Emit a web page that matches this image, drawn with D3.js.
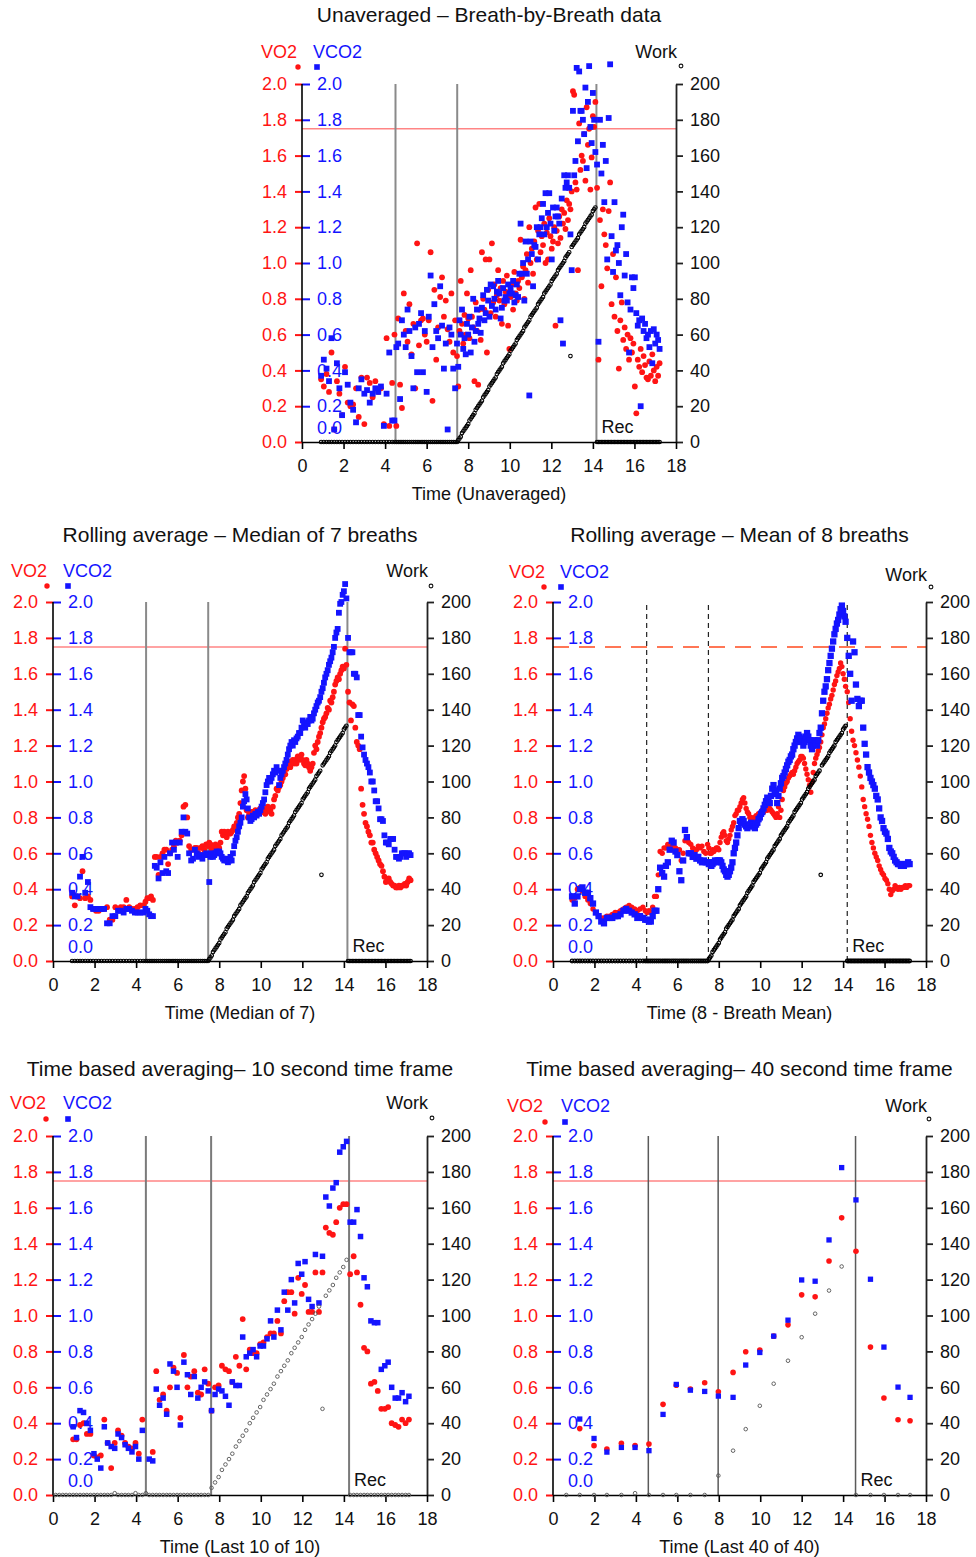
<!DOCTYPE html>
<html>
<head>
<meta charset="utf-8">
<script src="https://cdn.jsdelivr.net/npm/d3@7"></script>
<style>
  body { margin: 0; background: #fff; }
  svg { display: block; }
</style>
</head>
<body>
<svg id="chart" width="976" height="1557"></svg>
<script>
// ---------------------------------------------------------------
// Axis tick values
// ---------------------------------------------------------------
const gasTicks  = [0, 0.2, 0.4, 0.6, 0.8, 1.0, 1.2, 1.4, 1.6, 1.8, 2.0];   // L/min
const workTicks = [0, 20, 40, 60, 80, 100, 120, 140, 160, 180, 200];       // W
const timeTicks = [0, 2, 4, 6, 8, 10, 12, 14, 16, 18];                     // min

// Threshold level drawn as the horizontal reference line (L/min)
const thresholdLevel = 1.75;

// Phase markers (min): end of rest, start of ramp, start of recovery
const markersBreath = [4.5, 7.47, 14.17];
const markersMedian = [4.48, 7.47, 14.17];
const markersMean   = [4.52, 7.5, 14.2];
const markers10s    = [4.47, 7.61, 14.25];
const markers40s    = [4.6, 7.97, 14.6];

// ---------------------------------------------------------------
// Breath-by-breath time stamps (min), shared by the three breath panels
// ---------------------------------------------------------------
const breathTime = [
  0.92,1.05,1.18,1.3,1.42,1.55,1.68,1.8,1.93,2.07,2.2,2.33,2.46,2.6,2.73,2.86,3.0,3.13,3.26,3.4,3.53,3.67,3.8,3.94,4.07,4.2,4.34,
  4.45,4.54,4.63,4.72,4.81,4.9,4.99,5.08,5.17,5.27,5.36,5.45,5.54,5.63,5.73,5.82,5.91,6.0,6.1,6.19,6.28,6.37,6.46,6.55,6.65,6.74,6.83,6.92,7.01,7.1,7.19,7.28,7.37,
  7.46,7.52,7.58,7.64,7.7,7.76,7.82,7.88,7.94,8.0,
  8.06,8.12,8.18,8.24,8.3,8.36,8.42,8.48,8.54,8.6,
  8.66,8.72,8.78,8.84,8.9,8.96,9.02,9.08,9.14,9.2,
  9.26,9.32,9.38,9.44,9.5,9.56,9.62,9.68,9.74,9.8,
  9.86,9.92,9.98,10.04,10.1,10.16,10.22,10.28,10.34,10.4,
  10.46,10.52,10.58,10.64,10.7,10.76,10.82,10.88,10.94,11.0,
  11.06,11.12,11.18,11.24,11.3,11.36,11.42,11.48,11.54,11.6,
  11.66,11.72,11.78,11.84,11.9,11.96,12.02,12.08,12.14,12.2,
  12.26,12.32,12.38,12.44,12.5,12.56,12.62,12.68,12.74,12.8,
  12.86,12.92,12.98,13.04,13.1,13.16,13.22,13.28,13.34,13.4,
  13.46,13.52,13.58,13.64,13.7,13.76,13.82,13.88,13.94,14.0,
  14.06,14.12,
  14.2,14.27,14.34,14.41,14.48,14.55,14.62,14.69,14.76,14.83,
  14.9,14.97,15.04,15.11,15.18,15.25,15.32,15.39,15.46,15.53,
  15.6,15.67,15.74,15.81,15.88,15.95,16.02,16.09,16.16,16.23,
  16.3,16.37,16.44,16.51,16.58,16.65,16.72,16.79,16.86,16.93,
  17.0,17.07,17.14,17.21
];

// Work rate per breath (W)
const workBreath = [
  0,0,0,0,0,0,0,0,0,0,0,0,0,0,0,0,0,0,0,0,0,0,0,0,0,0,0,
  0,0,0,0,0,0,0,0,0,0,0,0,0,0,0,0,0,0,0,0,0,0,0,0,0,0,0,0,0,0,0,0,0,
  0,1,2,3,5,6,7,8,9,10,
  12,13,14,15,16,18,19,20,21,22,
  23,25,26,27,28,29,31,32,33,34,
  35,36,38,39,40,41,42,44,45,46,
  47,48,49,51,52,53,54,55,57,58,
  59,60,61,62,64,65,66,67,68,70,
  71,72,73,74,75,77,78,79,80,81,
  83,84,85,86,87,88,90,91,92,93,
  94,96,97,98,99,100,101,103,104,105,
  106,48,109,110,111,112,113,114,116,117,
  118,119,120,122,123,124,125,126,127,129,
  130,131,
  0,0,0,0,0,0,0,0,0,0,0,0,0,0,0,0,0,0,0,0,0,0,0,0,0,0,0,0,0,0,0,0,0,0,0,0,0,0,0,0,0,0,0,0
];

// Unaveraged VO2 (L/min)
const vo2Raw = [
  0.35,0.31,0.38,0.28,0.5,0.07,0.34,0.27,0.15,0.42,0.22,0.2,0.21,0.3,0.14,0.36,0.1,0.36,0.33,0.25,0.34,0.28,0.3,0.1,0.58,0.09,0.33,
  0.6,0.09,0.69,0.32,0.19,0.83,0.62,0.56,0.77,0.49,0.66,0.3,1.11,0.54,0.68,0.69,0.6,0.56,0.68,1.06,0.23,0.85,0.46,0.64,0.81,0.92,0.7,0.79,0.63,0.56,0.83,0.5,0.68,
  0.48,0.31,0.62,0.9,0.66,0.55,0.71,0.6,0.83,0.69,
  0.58,0.96,0.7,0.64,0.34,0.78,0.62,0.32,0.74,0.57,
  1.06,0.8,0.74,1.02,0.5,0.85,1.02,0.72,1.11,0.78,
  0.88,0.7,0.82,0.96,0.79,0.86,0.66,0.9,0.77,0.84,
  0.93,0.65,0.52,0.81,0.88,0.74,0.95,0.83,0.79,0.9,
  0.86,1.13,0.92,0.98,0.8,0.96,1.05,0.89,1.2,1.0,
  1.08,0.94,1.12,1.31,1.02,1.18,1.33,1.06,1.15,1.1,
  1.22,1.0,1.17,1.02,1.25,1.15,1.08,1.12,1.2,0.65,
  1.18,1.11,1.26,1.14,1.3,1.22,1.28,1.19,1.35,1.24,
  1.33,1.3,1.4,1.96,1.94,1.45,1.41,0.96,1.78,1.52,
  1.6,1.57,1.72,1.46,1.87,1.66,1.75,1.41,1.59,1.82,
  1.76,1.9,
  1.42,0.46,1.24,0.87,1.3,1.16,1.1,0.97,1.29,1.45,
  0.77,1.05,0.7,0.92,0.62,0.41,0.68,0.78,0.57,0.64,
  0.52,0.6,0.46,0.58,0.5,0.55,0.31,0.16,0.46,0.42,
  0.52,0.39,0.48,0.43,0.36,0.35,0.45,0.37,0.49,0.4,
  0.34,0.42,0.37,0.44
];

// Unaveraged VCO2 (L/min)
const vco2Raw = [
  0.37,0.46,0.41,0.34,0.58,0.07,0.44,0.3,0.15,0.39,0.32,0.22,0.18,0.11,0.3,0.35,0.27,0.29,0.22,0.27,0.3,0.28,0.31,0.09,0.27,0.5,0.12,
  0.12,0.53,0.55,0.24,0.68,0.6,0.53,0.74,0.62,0.48,0.3,0.64,0.39,0.66,0.72,0.39,0.62,0.28,0.7,0.93,0.53,0.77,0.62,0.58,0.87,0.65,0.41,0.55,0.07,0.64,0.6,0.41,0.3,
  0.55,0.42,0.68,0.6,0.74,0.52,0.58,0.49,0.66,0.6,
  0.7,0.5,0.64,0.8,0.56,0.62,0.74,0.66,0.69,0.61,
  0.75,0.82,0.68,0.72,0.85,0.79,0.7,0.88,0.76,0.87,
  0.8,0.74,0.84,0.9,0.83,0.69,0.75,0.86,0.79,0.81,
  0.79,0.88,0.83,0.86,0.83,0.9,0.78,0.82,0.88,0.81,
  0.94,1.22,0.94,1.0,0.79,1.12,0.94,1.02,0.26,1.12,
  1.05,0.87,1.1,1.09,1.2,1.02,1.16,1.2,1.25,1.33,
  1.16,1.39,1.2,1.28,1.39,1.22,1.02,1.31,1.18,1.26,
  1.31,1.26,1.22,0.68,1.36,0.55,1.49,1.42,1.45,1.49,
  1.42,1.16,0.96,1.85,1.49,1.57,2.09,1.68,2.07,1.85,
  1.85,1.8,1.72,1.98,1.53,1.9,2.1,1.76,1.67,1.95,
  1.8,1.62,
  1.55,0.56,1.8,1.5,1.66,1.34,1.57,1.02,1.81,2.11,
  1.15,0.95,1.34,1.07,1.1,1.0,0.82,1.2,1.27,0.93,
  1.05,0.78,0.5,0.74,0.92,0.86,0.92,0.72,0.65,0.68,
  0.2,0.69,0.62,0.66,0.58,0.6,0.53,0.62,0.44,0.63,
  0.55,0.6,0.57,0.52
];

// Rolling median of 7 breaths
const vo2Median7 = [
  0.36,0.31,0.36,0.35,0.5,0.35,0.36,0.34,0.29,0.28,0.28,0.29,0.29,0.3,0.23,0.23,0.3,0.29,0.3,0.3,0.34,0.3,0.29,0.29,0.3,0.31,0.31,
  0.33,0.35,0.35,0.36,0.34,0.58,0.58,0.48,0.58,0.6,0.62,0.62,0.54,0.6,0.62,0.64,0.67,0.66,0.67,0.7,0.86,0.87,0.8,0.64,0.62,0.62,0.63,0.63,0.6,0.63,0.64,0.62,0.65,
  0.64,0.66,0.65,0.62,0.63,0.64,0.65,0.63,0.64,0.63,
  0.66,0.72,0.7,0.72,0.7,0.69,0.72,0.71,0.71,0.72,
  0.73,0.75,0.75,0.77,0.8,0.82,0.88,0.95,1.0,1.03,
  0.96,0.84,0.8,0.82,0.8,0.83,0.83,0.81,0.84,0.83,
  0.82,0.84,0.85,0.83,0.85,0.84,0.82,0.83,0.86,0.85,
  0.84,0.82,0.86,0.9,0.92,0.96,0.95,0.97,0.98,1.0,
  1.02,1.05,1.04,1.07,1.1,1.11,1.08,1.1,1.12,1.1,
  1.12,1.1,1.14,1.12,1.13,1.15,1.12,1.1,1.09,1.12,
  1.1,1.08,1.06,1.08,1.1,1.16,1.2,1.18,1.22,1.25,
  1.27,1.3,1.33,1.35,1.36,1.38,1.41,1.4,1.45,1.44,
  1.47,1.5,1.54,1.56,1.58,1.57,1.6,1.62,1.64,1.63,
  1.74,1.65,
  1.5,1.44,1.34,1.43,1.42,1.3,1.22,1.2,1.18,0.96,
  0.87,0.82,0.77,0.75,0.72,0.7,0.66,0.66,0.62,0.6,
  0.58,0.56,0.54,0.53,0.5,0.47,0.44,0.45,0.46,0.44,
  0.43,0.42,0.42,0.41,0.41,0.42,0.41,0.42,0.42,0.43,
  0.42,0.44,0.46,0.45
];
const vco2Median7 = [
  0.38,0.36,0.36,0.47,0.58,0.38,0.44,0.3,0.29,0.29,0.29,0.29,0.29,0.21,0.21,0.25,0.25,0.28,0.28,0.27,0.29,0.29,0.28,0.27,0.27,0.27,0.27,
  0.29,0.28,0.26,0.25,0.25,0.53,0.52,0.46,0.55,0.49,0.58,0.5,0.49,0.6,0.66,0.62,0.66,0.58,0.66,0.72,0.8,0.72,0.71,0.6,0.56,0.57,0.62,0.6,0.58,0.59,0.57,0.59,0.6,
  0.59,0.44,0.58,0.6,0.58,0.59,0.6,0.61,0.6,0.61,
  0.6,0.58,0.57,0.56,0.57,0.56,0.55,0.56,0.58,0.56,
  0.6,0.64,0.67,0.69,0.72,0.75,0.77,0.8,0.86,0.89,
  0.93,0.9,0.85,0.8,0.78,0.79,0.81,0.8,0.82,0.81,
  0.83,0.82,0.84,0.86,0.88,0.9,0.94,0.98,1.0,1.02,
  1.0,1.02,1.04,1.06,1.05,1.08,1.06,0.98,1.02,1.04,
  1.06,1.08,1.1,1.12,1.15,1.18,1.2,1.22,1.2,1.23,
  1.22,1.24,1.25,1.27,1.27,1.3,1.34,1.32,1.3,1.33,
  1.32,1.34,1.36,1.34,1.35,1.38,1.4,1.42,1.44,1.45,
  1.47,1.5,1.52,1.55,1.58,1.6,1.62,1.65,1.67,1.69,
  1.72,1.75,1.8,1.83,1.85,1.94,1.99,2.0,2.04,2.06,
  2.1,2.02,
  1.8,1.72,1.72,1.72,1.6,1.6,1.58,1.37,1.37,1.25,
  1.19,1.15,1.12,1.1,1.08,1.05,1.0,1.0,0.95,0.89,
  0.89,0.85,0.79,0.79,0.78,0.7,0.66,0.66,0.65,0.68,
  0.68,0.68,0.62,0.58,0.58,0.57,0.58,0.6,0.6,0.6,
  0.58,0.6,0.6,0.59
];

// Rolling mean of 8 breaths
const vo2Mean8 = [
  0.34,0.35,0.4,0.41,0.39,0.36,0.34,0.32,0.29,0.27,0.25,0.24,0.24,0.25,0.25,0.26,0.27,0.27,0.28,0.29,0.3,0.31,0.3,0.29,0.28,0.29,0.3,
  0.28,0.27,0.28,0.27,0.3,0.36,0.36,0.48,0.61,0.6,0.63,0.63,0.65,0.64,0.62,0.64,0.63,0.62,0.62,0.56,0.6,0.67,0.68,0.66,0.65,0.63,0.62,0.62,0.64,0.63,0.64,0.61,0.6,
  0.65,0.63,0.6,0.6,0.62,0.61,0.62,0.63,0.63,0.62,
  0.66,0.69,0.71,0.72,0.7,0.67,0.66,0.68,0.7,0.73,
  0.75,0.77,0.81,0.82,0.84,0.84,0.86,0.88,0.9,0.91,
  0.88,0.85,0.83,0.82,0.8,0.8,0.78,0.79,0.8,0.81,
  0.8,0.82,0.82,0.83,0.84,0.83,0.84,0.85,0.84,0.86,
  0.85,0.84,0.83,0.82,0.81,0.8,0.82,0.86,0.8,0.84,
  0.9,0.95,0.97,0.99,1.0,1.02,1.03,1.04,1.05,1.04,
  1.06,1.08,1.1,1.11,1.12,1.14,1.14,1.13,1.1,1.07,
  1.04,1.01,0.98,0.94,1.0,1.05,1.1,1.13,1.15,1.17,
  1.19,1.22,1.26,1.3,1.32,1.35,1.38,1.41,1.43,1.46,
  1.48,1.51,1.54,1.56,1.59,1.61,1.63,1.66,1.64,1.6,
  1.57,1.53,
  1.5,1.44,1.35,1.28,1.23,1.2,1.16,1.12,1.08,1.03,
  0.97,0.9,0.86,0.82,0.79,0.75,0.7,0.66,0.63,0.6,
  0.58,0.56,0.53,0.51,0.49,0.48,0.46,0.45,0.43,0.4,
  0.37,0.39,0.4,0.42,0.41,0.4,0.41,0.4,0.41,0.41,
  0.42,0.41,0.42,0.42
];
const vco2Mean8 = [
  0.36,0.32,0.36,0.4,0.41,0.38,0.38,0.35,0.32,0.27,0.25,0.22,0.21,0.24,0.24,0.24,0.25,0.25,0.26,0.28,0.29,0.28,0.27,0.26,0.24,0.25,0.24,
  0.23,0.23,0.22,0.22,0.25,0.28,0.28,0.4,0.52,0.49,0.47,0.53,0.55,0.62,0.67,0.66,0.61,0.59,0.5,0.45,0.56,0.73,0.69,0.6,0.6,0.58,0.59,0.57,0.58,0.56,0.55,0.56,0.55,
  0.55,0.54,0.55,0.53,0.54,0.55,0.56,0.55,0.56,0.56,
  0.56,0.55,0.53,0.51,0.5,0.48,0.47,0.48,0.5,0.52,
  0.55,0.6,0.63,0.66,0.7,0.74,0.78,0.77,0.79,0.78,
  0.76,0.75,0.74,0.75,0.76,0.77,0.76,0.75,0.74,0.76,
  0.77,0.79,0.8,0.82,0.83,0.85,0.87,0.89,0.91,0.89,
  0.88,0.92,0.96,0.98,0.95,0.93,0.88,0.92,0.96,0.99,
  1.02,1.03,1.05,1.07,1.09,1.11,1.12,1.14,1.15,1.18,
  1.2,1.22,1.24,1.26,1.25,1.24,1.22,1.2,1.22,1.25,
  1.27,1.25,1.23,1.2,1.18,1.2,1.23,1.21,1.2,1.23,
  1.27,1.3,1.38,1.45,1.5,1.53,1.57,1.62,1.66,1.7,
  1.74,1.78,1.82,1.85,1.88,1.9,1.93,1.96,1.98,1.95,
  1.92,1.89,
  1.8,1.7,1.6,1.45,1.78,1.72,1.54,1.46,1.42,1.45,
  1.45,1.3,1.21,1.15,1.08,1.05,1.02,1.0,0.98,0.96,
  0.92,0.9,0.85,0.8,0.78,0.74,0.72,0.71,0.68,0.63,
  0.61,0.6,0.58,0.56,0.55,0.54,0.54,0.53,0.54,0.53,
  0.54,0.54,0.55,0.54
];

// ---------------------------------------------------------------
// 10-second time bins (min) and their averages
// ---------------------------------------------------------------
const time10s = [
  0.13,0.3,0.47,0.63,0.8,
  0.97,1.13,1.3,1.47,1.63,1.8,1.97,2.13,2.3,2.47,
  2.63,2.8,2.97,3.13,3.3,3.47,3.63,3.8,3.97,4.13,
  4.3,4.47,4.63,4.8,4.97,5.13,5.3,5.47,5.63,5.8,
  5.97,6.13,6.3,6.47,6.63,6.8,6.97,7.13,7.3,7.47,
  7.63,7.8,7.97,8.13,8.3,8.47,8.63,8.8,8.97,9.13,
  9.3,9.47,9.63,9.8,9.97,10.13,10.3,10.47,10.63,10.8,
  10.97,11.13,11.3,11.47,11.63,11.8,11.97,12.13,12.3,12.47,
  12.63,12.8,12.97,13.13,13.3,13.47,13.63,13.8,13.97,14.13,
  14.3,14.47,14.63,14.8,14.97,15.13,15.3,15.47,15.63,15.8,
  15.97,16.13,16.3,16.47,16.63,16.8,16.97,17.13
];
const vo2Avg10s = [
  null,null,null,null,null,
  0.31,0.31,0.39,0.4,0.34,0.34,0.22,0.21,0.22,0.42,
  0.29,0.15,0.29,0.36,0.33,0.29,0.27,0.26,0.29,0.23,
  0.42,null,null,0.24,0.69,0.53,0.56,0.47,0.6,0.71,
  0.68,0.43,0.78,0.6,0.66,0.69,0.57,0.56,0.7,0.62,
  0.47,0.6,0.61,0.72,0.7,0.69,0.63,0.77,0.72,0.98,
  0.7,0.81,0.79,0.79,0.84,0.85,0.88,0.9,0.9,0.97,
  0.9,1.08,1.13,1.13,1.01,1.21,1.12,1.17,1.02,1.02,
  1.24,1.02,1.24,1.49,1.46,1.45,1.52,1.6,1.62,1.62,
  1.23,1.33,1.24,1.06,0.82,0.8,0.62,0.63,0.58,0.48,
  0.48,0.49,0.4,0.39,0.38,0.42,0.4,0.42
];
const vco2Avg10s = [
  null,null,null,null,null,
  0.38,0.32,0.47,0.46,0.4,0.36,0.23,0.2,0.15,0.38,
  0.29,0.27,0.26,0.34,0.32,0.28,0.26,0.24,0.27,0.2,
  0.36,null,0.2,0.19,0.59,0.5,0.54,0.45,0.73,0.69,
  0.6,0.39,0.74,0.67,0.56,0.66,0.54,0.6,0.63,0.58,
  0.47,0.56,0.59,0.58,0.55,0.5,0.63,0.61,0.61,0.88,
  0.77,0.79,0.81,0.77,0.83,0.83,0.87,0.97,0.88,1.03,
  0.92,1.13,1.03,1.2,1.07,1.29,1.23,1.3,1.09,1.05,
  1.34,1.07,1.33,1.66,1.61,1.71,1.74,1.91,1.94,1.97,
  1.52,1.52,1.59,1.44,1.21,1.16,0.97,0.96,0.96,0.7,
  0.72,0.74,0.6,0.54,0.54,0.57,0.52,0.55
];
const workAvg10s = [
  0,0,0,0,0,
  0,0,0,0,0,0,0,0,0,0,
  0,0,1,0,0,0,0,0,1,0,
  0,1,0,0,0,0,0,0,0,0,
  0,0,0,0,0,0,0,0,0,0,
  4,7,10,14,17,20,23,27,30,33,
  36,40,43,46,49,53,56,59,62,66,
  69,72,75,79,82,85,88,92,95,98,
  101,105,48,111,114,117,121,124,127,131,
  0,0,0,0,0,0,0,0,0,0,
  0,0,0,0,0,0,0,0
];

// ---------------------------------------------------------------
// 40-second time bins (min) and their averages
// ---------------------------------------------------------------
const time40s   = [0.64,1.29,1.98,2.6,3.3,3.96,4.63,5.31,5.95,6.63,7.32,7.98,8.69,9.3,9.98,10.65,11.34,12.0,12.65,13.32,13.93,14.62,15.32,15.97,16.65,17.23];
const vo2Avg40s  = [null,0.37,0.275,0.256,0.288,0.275,0.284,0.505,0.612,0.59,0.625,0.575,0.683,0.798,0.807,0.885,0.948,1.115,1.104,1.304,1.544,1.358,0.824,0.54,0.419,0.414];
const vco2Avg40s = [null,0.423,0.315,0.239,0.265,0.265,0.247,0.449,0.616,0.584,0.577,0.551,0.544,0.724,0.794,0.885,0.974,1.198,1.191,1.421,1.824,1.644,1.202,0.824,0.601,0.544];
const workAvg40s = [0,0,0,0,0,1,0,0,0,0,0,10.8,24.7,36.7,49.7,62,74.8,87.9,101,113.9,127.3,0,0,0,0,0];

// ---------------------------------------------------------------
// Drawing
// ---------------------------------------------------------------
const RED = "#ff1414";
const BLUE = "#1414ff";
const FONT = "'Liberation Sans', Arial, Helvetica, sans-serif";
const fmt1 = d3.format(".1f");
const svg = d3.select("#chart");

const panels = [
  { title: "Unaveraged – Breath-by-Breath data", xTitle: "Time (Unaveraged)", titleY: 22,
    left: 302, right: 676, top: 84, bottom: 442,
    t: breathTime, vo2: vo2Raw, vco2: vco2Raw, tw: breathTime, work: workBreath,
    markers: markersBreath, dashed: false, markerColor: "#8a8a8a", markerWidth: 2,
    workColor: "#000", workR: 1.8, workW: 1.1, sq: 5.8, dot: 2.9,
    leg: { textDy: -33, markDy: -17, vo2End: -5, dotX: -4, vco2Start: 11, sqX: 15, workTextDy: -33, workMarkDy: -18, workX: 5 } },
  { title: "Rolling average – Median of 7 breaths", xTitle: "Time (Median of 7)", titleY: 542,
    left: 53, right: 427, top: 602, bottom: 961,
    t: breathTime, vo2: vo2Median7, vco2: vco2Median7, tw: breathTime, work: workBreath,
    markers: markersMedian, dashed: false, markerColor: "#8a8a8a", markerWidth: 2,
    workColor: "#000", workR: 1.8, workW: 1.1, sq: 5.8, dot: 2.9,
    leg: { textDy: -32, markDy: -16, vo2End: -6, dotX: -6, vco2Start: 10, sqX: 15, workTextDy: -32, workMarkDy: -16, workX: 4 } },
  { title: "Rolling average – Mean of 8 breaths", xTitle: "Time (8 - Breath Mean)", titleY: 542,
    left: 553, right: 926, top: 602, bottom: 961,
    t: breathTime, vo2: vo2Mean8, vco2: vco2Mean8, tw: breathTime, work: workBreath,
    markers: markersMean, dashed: true, markerColor: "#222", markerWidth: 1.2,
    workColor: "#000", workR: 1.8, workW: 1.2, sq: 6.3, dot: 2.7,
    leg: { textDy: -31, markDy: -15, vo2End: -8, dotX: -9, vco2Start: 7, sqX: 8, workTextDy: -28, workMarkDy: -15, workX: 5 } },
  { title: "Time based averaging– 10 second time frame", xTitle: "Time (Last 10 of 10)", titleY: 1076,
    left: 53, right: 427, top: 1136, bottom: 1495,
    t: time10s, vo2: vo2Avg10s, vco2: vco2Avg10s, tw: time10s, work: workAvg10s,
    markers: markers10s, dashed: false, markerColor: "#7a7a7a", markerWidth: 2,
    workColor: "#555", workR: 1.8, workW: 0.9, sq: 5.5, dot: 2.9,
    leg: { textDy: -34, markDy: -17, vo2End: -7, dotX: -7, vco2Start: 10, sqX: 15, workTextDy: -34, workMarkDy: -18, workX: 5 } },
  { title: "Time based averaging– 40 second time frame", xTitle: "Time (Last 40 of 40)", titleY: 1076,
    left: 553, right: 926, top: 1136, bottom: 1495,
    t: time40s, vo2: vo2Avg40s, vco2: vco2Avg40s, tw: time40s, work: workAvg40s,
    markers: markers40s, dashed: false, markerColor: "#5a5a5a", markerWidth: 1.5,
    workColor: "#555", workR: 1.8, workW: 0.9, sq: 5.3, dot: 2.8,
    leg: { textDy: -31, markDy: -14, vo2End: -10, dotX: -8, vco2Start: 8, sqX: 12, workTextDy: -31, workMarkDy: -17, workX: 3 } }
];

function zip(ts, vs) {
  return ts.map((t, i) => ({ t: t, v: vs[i] })).filter(d => d.v != null);
}

function drawPanel(c) {
  const g = svg.append("g").attr("font-family", FONT);
  const x = d3.scaleLinear().domain([0, 18]).range([c.left, c.right]);
  const y = d3.scaleLinear().domain([0, 2]).range([c.bottom, c.top]);
  const w = d3.scaleLinear().domain([0, 200]).range([c.bottom, c.top]);
  const cx = (c.left + c.right) / 2;

  // Title and x-axis caption
  g.append("text").attr("x", cx).attr("y", c.titleY)
    .attr("text-anchor", "middle").attr("font-size", 21).attr("fill", "#111").text(c.title);
  g.append("text").attr("x", cx).attr("y", c.bottom + 58)
    .attr("text-anchor", "middle").attr("font-size", 18).attr("fill", "#111").text(c.xTitle);

  // Threshold reference line
  g.append("line")
    .attr("x1", c.left).attr("x2", c.right)
    .attr("y1", y(thresholdLevel)).attr("y2", y(thresholdLevel))
    .attr("stroke", c.dashed ? "#ff4a1e" : "#ff8585")
    .attr("stroke-width", 1.5)
    .attr("stroke-dasharray", c.dashed ? "16,10" : null);

  // Phase markers
  g.selectAll("line.marker").data(c.markers).join("line").attr("class", "marker")
    .attr("x1", d => x(d)).attr("x2", d => x(d))
    .attr("y1", y(0)).attr("y2", y(2))
    .attr("stroke", c.markerColor).attr("stroke-width", c.markerWidth)
    .attr("stroke-dasharray", c.dashed ? "5,4" : null);

  // "Rec" label beside the recovery marker
  g.append("text").attr("x", x(c.markers[2]) + 5).attr("y", c.bottom - 9)
    .attr("font-size", 18).attr("fill", "#111").text("Rec");

  // Left axis: VO2 (red, ticks outward) and VCO2 (blue, ticks inward)
  const ra = g.append("g").attr("transform", `translate(${c.left},0)`)
    .call(d3.axisLeft(y).tickValues(gasTicks).tickFormat(fmt1).tickSize(7).tickPadding(8).tickSizeOuter(0));
  ra.select(".domain").remove();
  ra.attr("font-size", 18).attr("font-family", FONT);
  ra.selectAll(".tick line").attr("stroke", RED).attr("stroke-width", 2);
  ra.selectAll(".tick text").attr("fill", RED);

  const ba = g.append("g").attr("transform", `translate(${c.left},0)`)
    .call(d3.axisRight(y).tickValues(gasTicks).tickFormat(fmt1).tickSize(8).tickPadding(7).tickSizeOuter(0));
  ba.select(".domain").remove();
  ba.attr("font-size", 18).attr("font-family", FONT);
  ba.selectAll(".tick line").attr("stroke", BLUE).attr("stroke-width", 2);
  ba.selectAll(".tick text").attr("fill", BLUE);
  const zeroTick = ba.selectAll(".tick").filter(d => d === 0);
  zeroTick.select("line").remove();
  zeroTick.select("text").attr("y", -14);

  g.append("line").attr("x1", c.left).attr("x2", c.left)
    .attr("y1", y(0)).attr("y2", y(2)).attr("stroke", "#000").attr("stroke-width", 1.6);

  // Right axis: work rate
  const wa = g.append("g").attr("transform", `translate(${c.right},0)`)
    .call(d3.axisRight(w).tickValues(workTicks).tickSize(7).tickPadding(7).tickSizeOuter(0));
  wa.attr("font-size", 18).attr("font-family", FONT);
  wa.select(".domain").attr("stroke", "#222").attr("stroke-width", 1.8);
  wa.selectAll(".tick line").attr("stroke", "#222").attr("stroke-width", 1.8);
  wa.selectAll(".tick text").attr("fill", "#111");

  // Bottom axis: time
  const ta = g.append("g").attr("transform", `translate(0,${c.bottom})`)
    .call(d3.axisBottom(x).tickValues(timeTicks).tickSize(7).tickPadding(10).tickSizeOuter(0));
  ta.attr("font-size", 18).attr("font-family", FONT);
  ta.select(".domain").attr("stroke", "#000").attr("stroke-width", 1.6);
  ta.selectAll(".tick line").attr("stroke", "#000").attr("stroke-width", 1.6);
  ta.selectAll(".tick text").attr("fill", "#111");

  // Legend
  const L = c.leg;
  g.append("text").attr("x", c.left + L.vo2End).attr("y", c.top + L.textDy + 6.5)
    .attr("text-anchor", "end").attr("font-size", 18).attr("fill", RED).text("VO2");
  g.append("circle").attr("cx", c.left + L.dotX).attr("cy", c.top + L.markDy).attr("r", 2.7).attr("fill", RED);
  g.append("text").attr("x", c.left + L.vco2Start).attr("y", c.top + L.textDy + 6.5)
    .attr("font-size", 18).attr("fill", BLUE).text("VCO2");
  g.append("rect").attr("x", c.left + L.sqX - 2.8).attr("y", c.top + L.markDy - 2.8)
    .attr("width", 5.6).attr("height", 5.6).attr("fill", BLUE);
  g.append("text").attr("x", c.right + 1).attr("y", c.top + L.workTextDy + 6.5)
    .attr("text-anchor", "end").attr("font-size", 18).attr("fill", "#111").text("Work");
  g.append("circle").attr("cx", c.right + L.workX).attr("cy", c.top + L.workMarkDy).attr("r", 1.9)
    .attr("fill", "#fff").attr("stroke", "#111").attr("stroke-width", 1.1);

  // VO2 (red dots)
  g.append("g").selectAll("circle").data(zip(c.t, c.vo2)).join("circle")
    .attr("cx", d => x(d.t)).attr("cy", d => y(d.v)).attr("r", c.dot).attr("fill", RED);

  // VCO2 (blue squares)
  g.append("g").selectAll("rect").data(zip(c.t, c.vco2)).join("rect")
    .attr("x", d => x(d.t) - c.sq / 2).attr("y", d => y(d.v) - c.sq / 2)
    .attr("width", c.sq).attr("height", c.sq).attr("fill", BLUE);

  // Work (small open circles on the right-hand scale)
  g.append("g").selectAll("circle").data(zip(c.tw, c.work)).join("circle")
    .attr("cx", d => x(d.t)).attr("cy", d => w(d.v)).attr("r", c.workR)
    .attr("fill", "none").attr("stroke", c.workColor).attr("stroke-width", c.workW);
}

panels.forEach(drawPanel);
</script>
</body>
</html>
